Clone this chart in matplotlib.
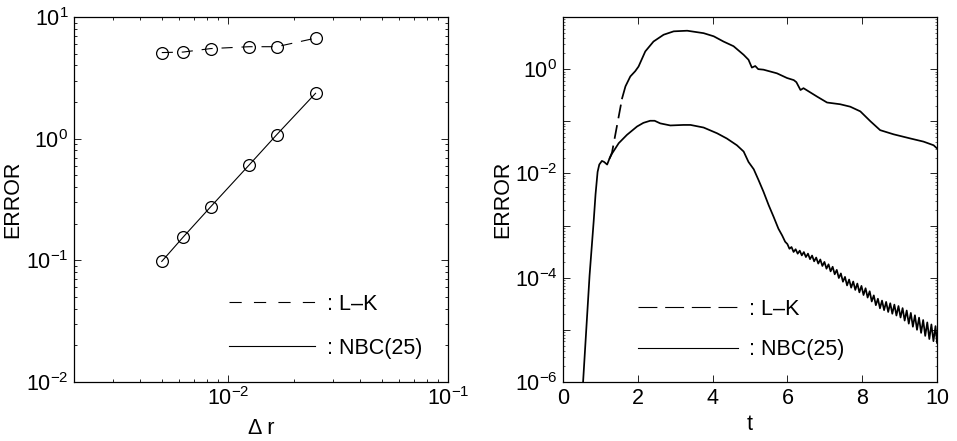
import numpy as np
import matplotlib
matplotlib.use('Agg')
import matplotlib.pyplot as plt
from matplotlib import ticker
from matplotlib.lines import Line2D

# ---------------- data ----------------
# Left panel: ERROR versus grid spacing (Delta r)
dr = [1/200, 1/160, 1/120, 1/80, 1/60, 1/40]
err_lk_dr = [5.1, 5.15, 5.5, 5.7, 5.7, 6.7]
err_nbc_dr = [0.098, 0.155, 0.275, 0.61, 1.08, 2.36]

# Right panel: log10(ERROR) versus time t
t_nbc = [0.52, 0.71, 0.82, 0.87, 0.925, 0.97, 1.04, 1.10, 1.18, 1.24,
         1.31, 1.49, 1.71, 1.98, 2.15, 2.33, 2.45, 2.60, 2.87, 3.22,
         3.41, 3.76, 4.12, 4.38, 4.65, 4.83, 4.96, 5.10, 5.23, 5.36,
         5.50, 5.63, 5.76, 5.86, 5.94,
         6.000, 6.055, 6.110, 6.165, 6.220, 6.275, 6.330, 6.385, 6.440, 6.495,
         6.550, 6.605, 6.660, 6.715, 6.770, 6.825, 6.880, 6.935, 6.990, 7.045,
         7.100, 7.155, 7.210, 7.265, 7.320, 7.375, 7.430, 7.485, 7.540, 7.595,
         7.650, 7.705, 7.760, 7.815, 7.870, 7.925, 7.980, 8.035, 8.090, 8.145,
         8.200, 8.255, 8.310, 8.365, 8.420, 8.475, 8.530, 8.585, 8.640, 8.695,
         8.750, 8.805, 8.860, 8.915, 8.970, 9.025, 9.080, 9.135, 9.190, 9.245,
         9.300, 9.355, 9.410, 9.465, 9.520, 9.575, 9.630, 9.685, 9.740, 9.795,
         9.850, 9.905, 9.960, 10.0]
log_err_nbc = [-6.2, -3.96, -2.92, -2.40, -1.97, -1.83, -1.76, -1.78, -1.83, -1.72,
               -1.62, -1.42, -1.26, -1.10, -1.03, -0.99, -0.99, -1.04, -1.08, -1.07,
               -1.07, -1.12, -1.23, -1.33, -1.46, -1.58, -1.78, -1.92, -2.13, -2.35,
               -2.61, -2.83, -3.06, -3.19, -3.31,
               -3.355, -3.445, -3.411, -3.506, -3.454, -3.539, -3.481, -3.572, -3.508, -3.604,
               -3.538, -3.644, -3.575, -3.686, -3.613, -3.729, -3.650, -3.775, -3.697, -3.827,
               -3.743, -3.878, -3.790, -3.934, -3.850, -4.006, -3.918, -4.077, -3.984, -4.148,
               -4.035, -4.191, -4.073, -4.234, -4.112, -4.281, -4.157, -4.332, -4.202, -4.381,
               -4.260, -4.456, -4.339, -4.527, -4.403, -4.587, -4.439, -4.622, -4.464, -4.657,
               -4.490, -4.691, -4.516, -4.725, -4.543, -4.763, -4.583, -4.822, -4.629, -4.881,
               -4.675, -4.940, -4.720, -4.999, -4.766, -5.058, -4.811, -5.116, -4.857, -5.176,
               -4.896, -5.217, -4.928, -5.25]

t_lk = [1.24, 1.31, 1.58, 1.67, 1.80, 1.93, 2.02, 2.20, 2.42, 2.69,
        2.96, 3.32, 3.76, 4.03, 4.29, 4.56, 4.83, 4.96, 5.05, 5.14,
        5.22, 5.36, 5.72, 5.99, 6.17, 6.24, 6.35, 6.43, 6.79, 7.06,
        7.41, 7.68, 7.95, 8.22, 8.48, 8.84, 9.29, 9.64, 9.91, 10.0]
log_err_lk = [-1.72, -1.60, -0.56, -0.33, -0.14, -0.04, 0.05, 0.34, 0.53, 0.66,
              0.725, 0.737, 0.69, 0.63, 0.53, 0.44, 0.275, 0.18, 0.03, 0.06,
              0.0, -0.01, -0.08, -0.17, -0.21, -0.25, -0.40, -0.365, -0.525, -0.64,
              -0.673, -0.72, -0.81, -1.0, -1.17, -1.25, -1.33, -1.39, -1.46, -1.52]

labels = [': L\u2013K', ': NBC(25)']

# ---------------- style ----------------
plt.rcParams['font.family'] = 'Liberation Sans'
plt.rcParams['mathtext.fontset'] = 'custom'
plt.rcParams['mathtext.rm'] = 'Liberation Sans'
plt.rcParams['mathtext.it'] = 'Liberation Sans:italic'
FS = 15.5
LW = 0.8
LWR = 1.25
LK_DASH_SPLIT = 3  # number of leading L-K points drawn with visible dashes

fig = plt.figure(figsize=(9.57, 4.41), dpi=100)
axL = fig.add_axes([74/957, 59/441, 374/957, 365/441])
axR = fig.add_axes([563/957, 59/441, 374/957, 365/441])

for ax in (axL, axR):
    ax.tick_params(which='both', direction='in', top=True, right=True,
                   labelsize=FS, width=0.6, pad=4)
    ax.tick_params(which='major', length=5)
    ax.tick_params(which='minor', length=2.5)
    for s in ax.spines.values():
        s.set_linewidth(0.9)

# ----- left panel -----
axL.plot(dr, err_lk_dr, color='k', lw=LW, marker='o', ms=8.5, mfc='none',
         mec='k', mew=0.9, dashes=(10, 8))
axL.plot(dr, err_nbc_dr, color='k', lw=LW, marker='o', ms=8.5, mfc='none',
         mec='k', mew=0.9)
axL.set_xscale('log')
axL.set_yscale('log')
axL.set_xlim(10**-2.7, 1e-1)
axL.set_ylim(1e-2, 1e1)
axL.xaxis.set_major_locator(ticker.LogLocator(base=10, numticks=10))
axL.xaxis.set_minor_locator(ticker.LogLocator(base=10, subs=np.arange(2, 10), numticks=50))
axL.yaxis.set_major_locator(ticker.LogLocator(base=10, numticks=10))
axL.yaxis.set_minor_locator(ticker.LogLocator(base=10, subs=np.arange(2, 10), numticks=50))
axL.xaxis.set_minor_formatter(ticker.NullFormatter())
axL.yaxis.set_minor_formatter(ticker.NullFormatter())
axL.set_xlabel('\u0394 r', fontsize=FS)
axL.set_ylabel('ERROR', fontsize=FS)
axL.xaxis.set_label_coords(0.5, -0.10)
axL.yaxis.set_label_coords(-0.136, 0.5)
hL = [Line2D([], [], color='k', lw=LW, dashes=(11, 11)),
      Line2D([], [], color='k', lw=LW)]
axL.legend(hL, labels, loc='lower left', bbox_to_anchor=(0.414, 0.063),
           frameon=False, fontsize=FS, handlelength=4.0, handletextpad=0.56,
           labelspacing=1.07, borderpad=0, borderaxespad=0)

# ----- right panel -----
t_lk_a = np.array(t_lk)
e_lk = np.power(10.0, np.array(log_err_lk))
axR.plot(t_lk_a[:LK_DASH_SPLIT], e_lk[:LK_DASH_SPLIT], color='k', lw=LWR, dashes=(8, 4))
axR.plot(t_lk_a[LK_DASH_SPLIT - 1:], e_lk[LK_DASH_SPLIT - 1:], color='k', lw=LWR)
axR.plot(t_nbc, np.power(10.0, np.array(log_err_nbc)), color='k', lw=LWR)
axR.set_yscale('log')
axR.set_xlim(0, 10)
axR.set_ylim(1e-6, 1e1)
axR.xaxis.set_major_locator(ticker.FixedLocator([0, 2, 4, 6, 8, 10]))
axR.yaxis.set_major_locator(ticker.FixedLocator([10.0**k for k in range(-6, 2)]))
axR.yaxis.set_minor_locator(ticker.LogLocator(base=10, subs=np.arange(2, 10), numticks=50))
axR.yaxis.set_minor_formatter(ticker.NullFormatter())
axR.tick_params(axis='y', which='minor', length=1.5, width=0.4)


def even_pow(v, pos):
    k = int(round(np.log10(v)))
    if k % 2 == 0 and k <= 0:
        return r'$\mathdefault{10^{%d}}$' % k
    return ''


axR.yaxis.set_major_formatter(ticker.FuncFormatter(even_pow))
axR.set_xlabel('t', fontsize=FS)
axR.set_ylabel('ERROR', fontsize=FS)
axR.xaxis.set_label_coords(0.5, -0.088)
axR.yaxis.set_label_coords(-0.134, 0.5)
hR = [Line2D([], [], color='k', lw=LW, dashes=(17, 7)),
      Line2D([], [], color='k', lw=LW)]
axR.legend(hR, labels, loc='lower left', bbox_to_anchor=(0.2005, 0.060),
           frameon=False, fontsize=FS, handlelength=4.65, handletextpad=0.51,
           labelspacing=0.91, borderpad=0, borderaxespad=0)

fig.savefig('out.png', dpi=100)
